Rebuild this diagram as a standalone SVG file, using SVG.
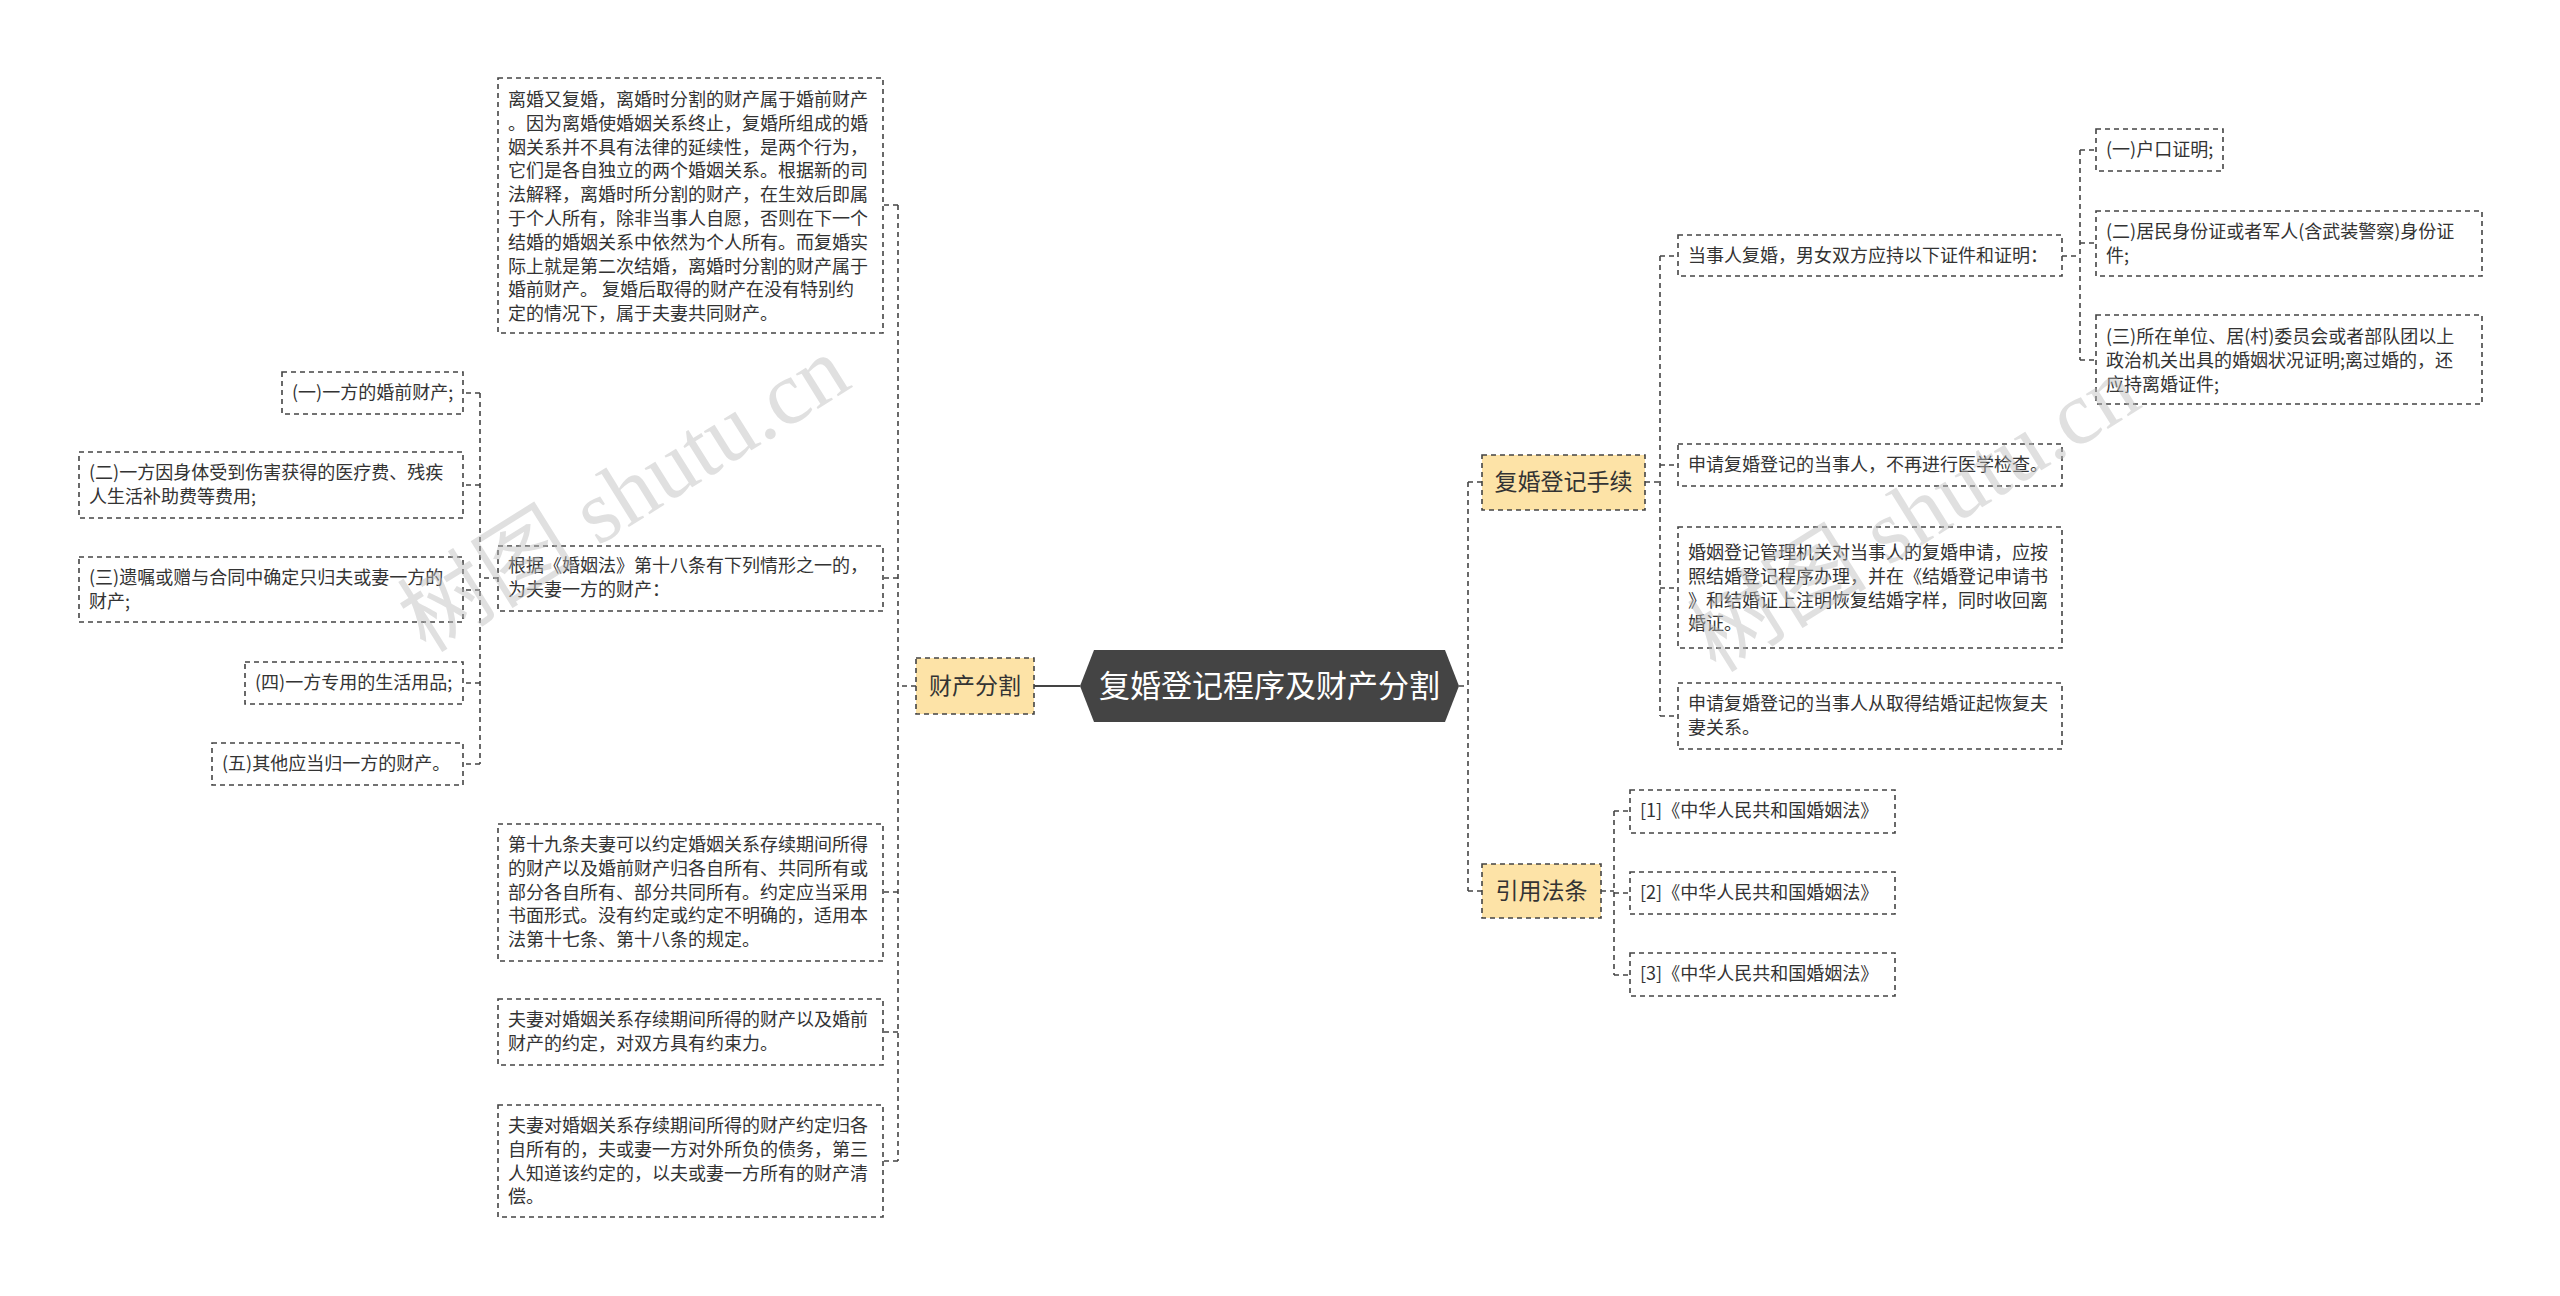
<svg xmlns="http://www.w3.org/2000/svg" width="2560" height="1296" viewBox="0 0 2560 1296">
<style>
.b{fill:#fff;stroke:#444;stroke-width:1.6;stroke-dasharray:5,4}
.y{fill:#fde3a7;stroke:#444;stroke-width:1.6;stroke-dasharray:5,4}
.t{font-family:"Noto Sans CJK SC","Liberation Sans",sans-serif;font-size:18px;fill:#333}
.m{font-family:"Noto Sans CJK SC","Liberation Sans",sans-serif;font-size:23px;fill:#333}
.c{fill:none;stroke:#444;stroke-width:1.6;stroke-dasharray:5,4}
.w{font-family:"Liberation Serif","Noto Sans CJK SC",serif;font-size:90px;fill:#bbb;opacity:0.45}
</style>
<rect width="2560" height="1296" fill="#fff"/>
<g id="connectors">
<path class="c" d="M916 686H898M898 205V1161M898 205H883M898 578H883M898 892H883M898 1032H883M898 1161H883"/>
<path class="c" d="M498 578H480M480 393V764M480 393H463M480 485H463M480 590H463M480 683H463M480 764H463"/>
<path d="M1080 686H1034" fill="none" stroke="#444" stroke-width="2"/>
<path class="c" d="M1459 686H1468M1468 482V891M1468 482H1482M1468 891H1482"/>
<path class="c" d="M1645 482H1660M1660 256V716M1660 256H1678M1660 465H1678M1660 588H1678M1660 716H1678"/>
<path class="c" d="M2062 256H2080M2080 150V360M2080 150H2096M2080 243H2096M2080 360H2096"/>
<path class="c" d="M1601 891H1614M1614 811V975M1614 811H1630M1614 893H1630M1614 975H1630"/>
</g>
<g id="root"><polygon points="1094,650 1445,650 1459,686 1445,722 1094,722 1080,686" fill="#444"/>
<text x="1269.5" y="697" text-anchor="middle" font-family="Noto Sans CJK SC,Liberation Sans,sans-serif" font-size="31" fill="#fff">复婚登记程序及财产分割</text></g>
<g id="n-caichan"><rect class="y" x="916" y="658" width="118" height="56"/><text class="m" x="975" y="694" text-anchor="middle">财产分割</text></g>
<g id="n-a"><rect class="b" x="498" y="78" width="385" height="255"/>
<text class="t" x="508" y="106">离婚又复婚，离婚时分割的财产属于婚前财产<tspan x="508" dy="23.8">。因为离婚使婚姻关系终止，复婚所组成的婚</tspan><tspan x="508" dy="23.8">姻关系并不具有法律的延续性，是两个行为，</tspan><tspan x="508" dy="23.8">它们是各自独立的两个婚姻关系。根据新的司</tspan><tspan x="508" dy="23.8">法解释，离婚时所分割的财产，在生效后即属</tspan><tspan x="508" dy="23.8">于个人所有，除非当事人自愿，否则在下一个</tspan><tspan x="508" dy="23.8">结婚的婚姻关系中依然为个人所有。而复婚实</tspan><tspan x="508" dy="23.8">际上就是第二次结婚，离婚时分割的财产属于</tspan><tspan x="508" dy="23.8">婚前财产。 复婚后取得的财产在没有特别约</tspan><tspan x="508" dy="23.8">定的情况下，属于夫妻共同财产。</tspan></text></g>
<g id="n-b"><rect class="b" x="498" y="546" width="385" height="65"/>
<text class="t" x="508" y="572">根据《婚姻法》第十八条有下列情形之一的，<tspan x="508" dy="23.8">为夫妻一方的财产：</tspan></text></g>
<g id="n-b1"><rect class="b" x="282" y="372" width="181" height="42"/><text class="t" x="292" y="399">(一)一方的婚前财产;</text></g>
<g id="n-b2"><rect class="b" x="79" y="452" width="384" height="66"/><text class="t" x="89" y="479">(二)一方因身体受到伤害获得的医疗费、残疾<tspan x="89" dy="23.8">人生活补助费等费用;</tspan></text></g>
<g id="n-b3"><rect class="b" x="79" y="557" width="384" height="65"/><text class="t" x="89" y="584">(三)遗嘱或赠与合同中确定只归夫或妻一方的<tspan x="89" dy="23.8">财产;</tspan></text></g>
<g id="n-b4"><rect class="b" x="245" y="662" width="218" height="42"/><text class="t" x="255" y="689">(四)一方专用的生活用品;</text></g>
<g id="n-b5"><rect class="b" x="212" y="743" width="251" height="42"/><text class="t" x="222" y="770">(五)其他应当归一方的财产。</text></g>
<g id="n-c"><rect class="b" x="498" y="824" width="385" height="137"/>
<text class="t" x="508" y="851">第十九条夫妻可以约定婚姻关系存续期间所得<tspan x="508" dy="23.8">的财产以及婚前财产归各自所有、共同所有或</tspan><tspan x="508" dy="23.8">部分各自所有、部分共同所有。约定应当采用</tspan><tspan x="508" dy="23.8">书面形式。没有约定或约定不明确的，适用本</tspan><tspan x="508" dy="23.8">法第十七条、第十八条的规定。</tspan></text></g>
<g id="n-d"><rect class="b" x="498" y="999" width="385" height="66"/>
<text class="t" x="508" y="1026">夫妻对婚姻关系存续期间所得的财产以及婚前<tspan x="508" dy="23.8">财产的约定，对双方具有约束力。</tspan></text></g>
<g id="n-e"><rect class="b" x="498" y="1105" width="385" height="112"/>
<text class="t" x="508" y="1132">夫妻对婚姻关系存续期间所得的财产约定归各<tspan x="508" dy="23.8">自所有的，夫或妻一方对外所负的债务，第三</tspan><tspan x="508" dy="23.8">人知道该约定的，以夫或妻一方所有的财产清</tspan><tspan x="508" dy="23.8">偿。</tspan></text></g>
<g id="n-fuhun"><rect class="y" x="1482" y="455" width="163" height="55"/><text class="m" x="1563.5" y="490" text-anchor="middle">复婚登记手续</text></g>
<g id="n-f1"><rect class="b" x="1678" y="235" width="384" height="41"/><text class="t" x="1688" y="262">当事人复婚，男女双方应持以下证件和证明：</text></g>
<g id="n-f11"><rect class="b" x="2096" y="129" width="127" height="42"/><text class="t" x="2106" y="156">(一)户口证明;</text></g>
<g id="n-f12"><rect class="b" x="2096" y="211" width="386" height="65"/><text class="t" x="2106" y="238">(二)居民身份证或者军人(含武装警察)身份证<tspan x="2106" dy="23.8">件;</tspan></text></g>
<g id="n-f13"><rect class="b" x="2096" y="315" width="386" height="89"/><text class="t" x="2106" y="343">(三)所在单位、居(村)委员会或者部队团以上<tspan x="2106" dy="23.8">政治机关出具的婚姻状况证明;离过婚的，还</tspan><tspan x="2106" dy="23.8">应持离婚证件;</tspan></text></g>
<g id="n-f2"><rect class="b" x="1678" y="444" width="384" height="42"/><text class="t" x="1688" y="471">申请复婚登记的当事人，不再进行医学检查。</text></g>
<g id="n-f3"><rect class="b" x="1678" y="527" width="384" height="121"/><text class="t" x="1688" y="559">婚姻登记管理机关对当事人的复婚申请，应按<tspan x="1688" dy="23.8">照结婚登记程序办理，并在《结婚登记申请书</tspan><tspan x="1688" dy="23.8">》和结婚证上注明恢复结婚字样，同时收回离</tspan><tspan x="1688" dy="23.8">婚证。</tspan></text></g>
<g id="n-f4"><rect class="b" x="1678" y="683" width="384" height="66"/><text class="t" x="1688" y="710">申请复婚登记的当事人从取得结婚证起恢复夫<tspan x="1688" dy="23.8">妻关系。</tspan></text></g>
<g id="n-yinyong"><rect class="y" x="1482" y="864" width="119" height="54"/><text class="m" x="1541.5" y="899" text-anchor="middle">引用法条</text></g>
<g id="n-l1"><rect class="b" x="1630" y="790" width="265" height="43"/><text class="t" x="1640" y="817">[1]《中华人民共和国婚姻法》</text></g>
<g id="n-l2"><rect class="b" x="1630" y="872" width="265" height="42"/><text class="t" x="1640" y="899">[2]《中华人民共和国婚姻法》</text></g>
<g id="n-l3"><rect class="b" x="1630" y="953" width="265" height="43"/><text class="t" x="1640" y="980">[3]《中华人民共和国婚姻法》</text></g>
<g id="watermark">
<text class="w" transform="translate(640,520) rotate(-32)" text-anchor="middle">树图 shutu.cn</text>
<text class="w" transform="translate(1930,540) rotate(-32)" text-anchor="middle">树图 shutu.cn</text>
</g>
</svg>
